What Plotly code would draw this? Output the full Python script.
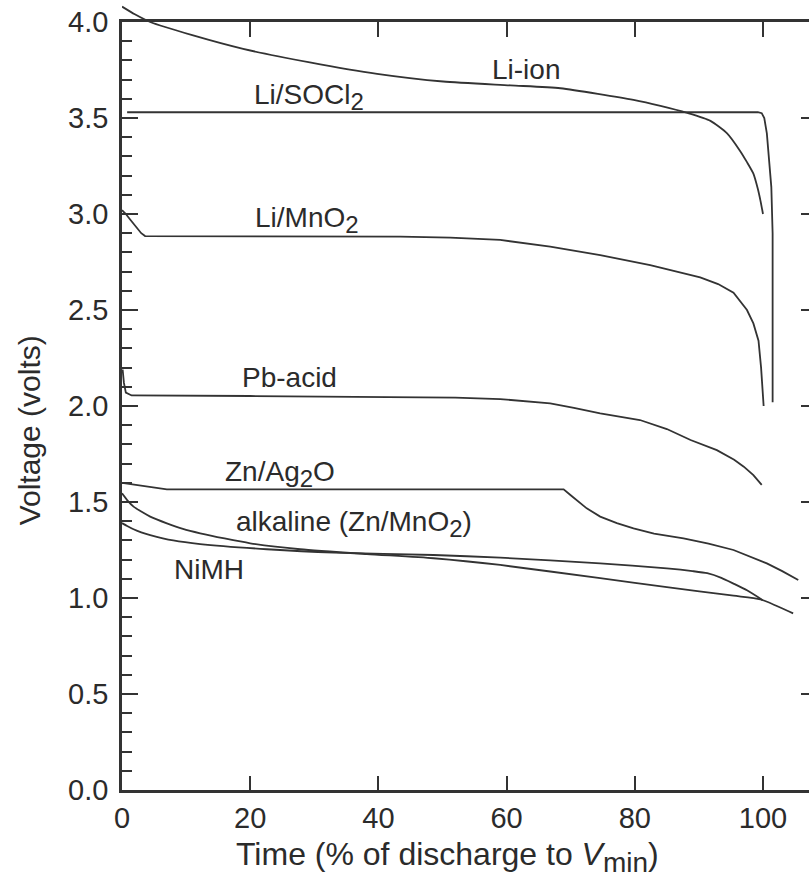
import plotly.graph_objects as go

# ---- data ----
li_ion_x = [0, 2.0, 4.4, 11.1, 18.9, 29.3, 39.8, 50.1, 60.6, 68.4, 79.8, 84.0, 88.2, 91.8, 94.4, 96.4, 97.5, 98.5, 99.2, 99.6, 100.0]
li_ion_v = [4.08, 4.04, 4.00, 3.93, 3.86, 3.79, 3.73, 3.69, 3.67, 3.655, 3.594, 3.563, 3.526, 3.485, 3.42, 3.33, 3.27, 3.21, 3.13, 3.07, 3.0]

socl2_x = [0.8, 50.0, 99.2, 99.8, 100.2, 100.6, 101.0, 101.3, 101.5, 101.5]
socl2_v = [3.53, 3.53, 3.53, 3.525, 3.50, 3.42, 3.28, 3.14, 2.9, 2.02]

mno2_x = [0, 0.6, 1.3, 2.3, 3.0, 3.6, 10, 25, 43.4, 51.2, 59.0, 66.8, 74.6, 82.4, 90.2, 93.0, 95.4, 97.5, 98.5, 99.3, 99.7, 100.1]
mno2_v = [3.02, 3.0, 2.97, 2.925, 2.90, 2.885, 2.885, 2.885, 2.882, 2.877, 2.865, 2.83, 2.786, 2.734, 2.67, 2.635, 2.59, 2.50, 2.43, 2.34, 2.20, 2.0]

pb_x = [0.1, 0.3, 0.6, 1.5, 20, 43.4, 52.0, 59.0, 63.0, 66.8, 70.5, 74.6, 80.8, 85.0, 88.7, 92.8, 95.5, 97.0, 98.5, 99.8]
pb_v = [2.19, 2.12, 2.07, 2.055, 2.052, 2.048, 2.044, 2.036, 2.026, 2.014, 1.99, 1.962, 1.927, 1.88, 1.823, 1.77, 1.72, 1.684, 1.64, 1.589]

znag_x = [0, 4.4, 7.0, 30, 68.9, 70.0, 71.3, 72.5, 74.6, 77.2, 79.8, 83.0, 87.6, 91.5, 95.4, 98.5, 100.6, 103.0, 105.5]
znag_v = [1.60, 1.58, 1.566, 1.566, 1.566, 1.535, 1.50, 1.467, 1.424, 1.39, 1.363, 1.335, 1.311, 1.283, 1.25, 1.21, 1.18, 1.14, 1.094]

alk_x = [0, 0.8, 1.8, 3.0, 4.4, 7.0, 9.5, 12.2, 16.0, 20.0, 27.8, 38.2, 48.6, 59.0, 74.6, 85.0, 95.4, 99.6, 104.7]
alk_v = [1.545, 1.51, 1.476, 1.45, 1.424, 1.389, 1.36, 1.337, 1.31, 1.285, 1.254, 1.229, 1.207, 1.172, 1.103, 1.057, 1.012, 0.993, 0.92]

nimh_x = [0, 0.8, 1.8, 3.0, 4.4, 8.0, 12.2, 22.6, 33.0, 48.6, 59.0, 74.6, 85.0, 89.0, 91.3, 93.5, 95.4, 97.5, 99.9]
nimh_v = [1.39, 1.375, 1.358, 1.342, 1.328, 1.30, 1.281, 1.254, 1.236, 1.224, 1.210, 1.18, 1.154, 1.14, 1.129, 1.105, 1.075, 1.04, 0.99]

SUB = '<sub><span style="font-size:24px">{}</span></sub>'
labels = ["Li-ion", "Li/SOCl" + SUB.format("2"), "Li/MnO" + SUB.format("2"), "Pb-acid",
          "Zn/Ag" + SUB.format("2") + "O", "alkaline (Zn/MnO" + SUB.format("2") + ")", "NiMH"]
label_x = [63.1, 29.1, 28.8, 26.2, 24.7, 36.2, 13.5]
label_v = [3.754, 3.61, 2.97, 2.15, 1.645, 1.385, 1.15]

x_ticks = [0, 20, 40, 60, 80, 100]
y_right_ticks = [0.5, 1.0, 1.5, 2.0, 2.5, 3.0, 3.5]
x_title = "Time (% of discharge to <i>V</i>" + '<sub><span style="font-size:28px">min</span></sub>' + ")"
y_title = "Voltage (volts)"

# ---- styling ----
FONT = "Liberation Sans, Arial, sans-serif"
INK = "#2b2b2b"
LINE = "#333333"
W, H = 809, 882
ML, MB, MT = 122, 92, 0
plot_h = H - MB - MT
D = (plot_h - 22) / plot_h  # main y-axis domain top (4.0 V level)

fig = go.Figure()

def add(x, v, xa="x", ya="y", smooth=False):
    line = dict(color=LINE, width=1.8)
    if smooth:
        line.update(shape="spline", smoothing=0.6)
    fig.add_trace(go.Scatter(x=x, y=v, mode="lines", xaxis=xa, yaxis=ya,
                             line=line, hoverinfo="skip", showlegend=False))

add(li_ion_x, li_ion_v, ya="y3", smooth=True)
add(socl2_x, socl2_v, ya="y2")
add(mno2_x, mno2_v)
add(pb_x, pb_v, xa="x2")
add(znag_x, znag_v)
add(alk_x, alk_v, smooth=True)
add(nimh_x, nimh_v, smooth=True)

for t, x, v in zip(labels, label_x, label_v):
    fig.add_annotation(x=x, y=v, xref="x", yref="y", text=t, showarrow=False,
                       font=dict(family=FONT, size=28, color=INK),
                       xanchor="center", yanchor="middle")

fig.add_annotation(x=50.75, y=-0.085, xref="x", yref="paper", text=x_title,
                   showarrow=False, font=dict(family=FONT, size=32, color=INK),
                   xanchor="center", yanchor="middle")
fig.add_annotation(x=-0.1354, y=1.873, xref="paper", yref="y", text=y_title,
                   showarrow=False, textangle=-90,
                   font=dict(family=FONT, size=30, color=INK),
                   xanchor="center", yanchor="middle")

XR = [0, (W - ML) / 6.41]
common = dict(showgrid=False, zeroline=False, linecolor=LINE, linewidth=2.5,
              tickcolor=LINE, tickwidth=2, automargin=False)

fig.update_layout(
    width=W, height=H,
    margin=dict(l=ML, r=0, t=MT, b=MB, pad=0, autoexpand=False),
    paper_bgcolor="white", plot_bgcolor="rgba(0,0,0,0)",
    xaxis=dict(domain=[0, 1], range=XR, anchor="y", showline=True,
               ticks="inside", ticklen=14, tickvals=x_ticks,
               tickfont=dict(family=FONT, size=29, color=INK), **common),
    xaxis2=dict(overlaying="x", side="top", anchor="y", range=XR, showline=True,
                ticks="inside", ticklen=15, tickvals=x_ticks[1:],
                showticklabels=False, **common),
    yaxis=dict(domain=[0, D], range=[0, 4.0], anchor="x", showline=True,
               ticks="inside", ticklen=16, dtick=0.5, tick0=0, tickformat=".1f",
               ticklabelstandoff=5,
               tickfont=dict(family=FONT, size=29, color=INK),
               minor=dict(dtick=0.1, ticks="inside", ticklen=10, tickwidth=2,
                          tickcolor=LINE, showgrid=False),
               **common),
    # right-hand frame ticks: a left-side axis placed at the right edge, ticks pointing left
    yaxis2=dict(overlaying="y", side="left", anchor="free", position=1.0,
                range=[0, 4.0], showline=False, ticks="outside", ticklen=8,
                tickvals=y_right_ticks, showticklabels=False, **common),
    yaxis3=dict(domain=[0, 1], range=[0, 4.0 / D], anchor="x", visible=False,
                automargin=False),
)

fig.write_html("out.html", config={"displayModeBar": False},
               post_script="document.body.style.margin='0';document.body.style.overflow='hidden';")
